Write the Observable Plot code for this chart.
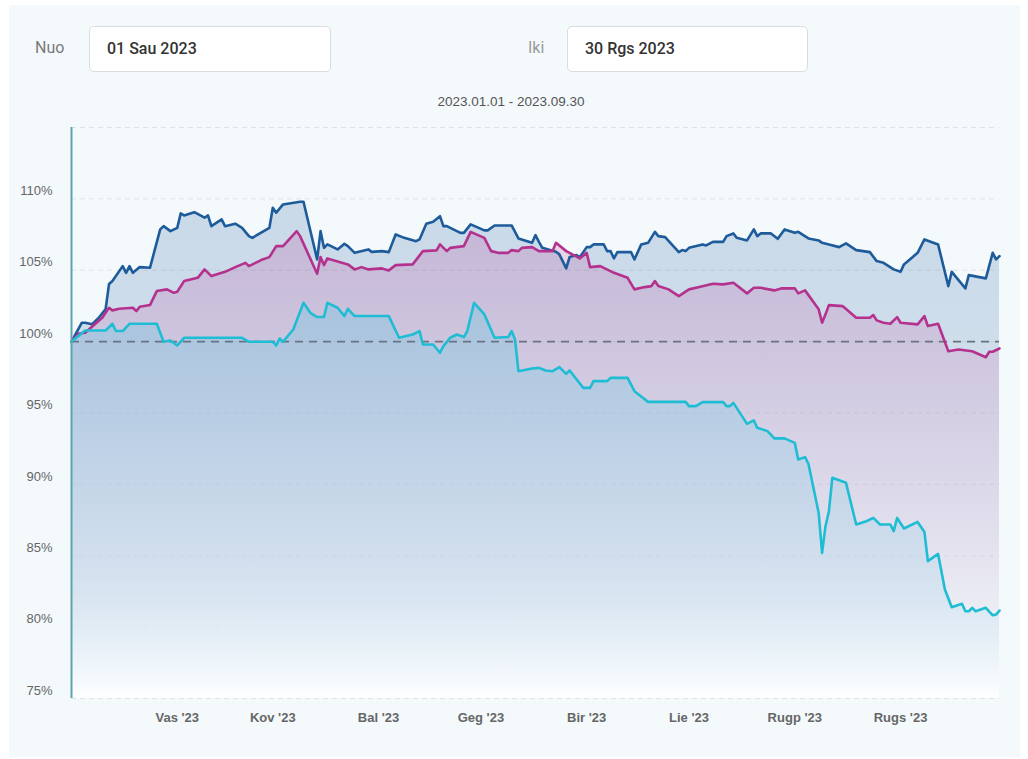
<!DOCTYPE html>
<html>
<head>
<meta charset="utf-8">
<script src="https://cdn.jsdelivr.net/npm/d3@7"></script>
<script src="https://cdn.jsdelivr.net/npm/@observablehq/plot@0.6"></script>
<style>
  html, body { margin: 0; padding: 0; background: #ffffff; }
  body { width: 1028px; height: 759px; position: relative; overflow: hidden; font-family: Roboto, "Liberation Sans", Arial, sans-serif; }
  #panel { position: absolute; left: 9px; top: 5px; width: 1011px; height: 752px; background: #f4f9fc; }
  .lbl { position: absolute; top: 38px; font-size: 16px; color: #7a7a7a; }
  .box { position: absolute; top: 26px; height: 46px; background: #fff; border: 1px solid #d8dde2; border-radius: 5px; box-sizing: border-box; padding-left: 17px; line-height: 44px; font-size: 16px; font-weight: 500; color: #333; }
  #subtitle { position: absolute; top: 94px; left: 0; width: 1022px; text-align: center; font-size: 13.5px; color: #555; font-family: "Liberation Sans", Arial, sans-serif; }
  #chart { position: absolute; left: 0; top: 115px; }
</style>
</head>
<body>
<div id="panel"></div>
<div class="lbl" style="left:35px;">Nuo</div>
<div class="box" style="left:89px; width:242px;">01 Sau 2023</div>
<div class="lbl" style="left:528px; color:#9a9a9a;">Iki</div>
<div class="box" style="left:567px; width:241px;">30 Rgs 2023</div>
<div id="subtitle">2023.01.01 - 2023.09.30</div>
<div id="chart"></div>
<script>
// ---- data (day offset from 2023-01-01, value in %) ----
const startDate = "2023-01-01";
const endDate = "2023-09-30";

const blueSeries = [[0,100],[3,101.32],[4,101.32],[6,101.21],[8,101.67],[10,102.28],[11,104.03],[12,104.24],[15,105.29],[16,104.82],[17,105.29],[18,104.82],[20,105.22],[23,105.17],[26,107.86],[27,108.09],[29,107.74],[31,107.97],[32,108.98],[33,108.84],[36,109.07],[39,108.68],[40,108.84],[41,108.09],[44,108.56],[45,108.09],[48,108.26],[50,107.97],[52,107.39],[53,107.27],[58,107.97],[59,109.38],[60,109.03],[62,109.61],[67,109.8],[68,109.8],[72,105.76],[73,107.74],[74,106.57],[75,106.81],[78,106.46],[80,106.85],[81,106.69],[83,106.22],[87,106.46],[88,106.29],[91,106.34],[93,106.27],[95,107.51],[97,107.32],[101,107.04],[102,107.16],[104,108.26],[106,108.4],[108,108.79],[109,108.09],[110,108.09],[114,107.62],[115,107.62],[117,108.21],[121,107.79],[122,107.79],[124,108.14],[129,108.14],[131,107.23],[135,106.92],[136,107.46],[137,106.99],[138,106.57],[142,106.29],[143,106.11],[145,105.13],[146,105.92],[148,106.06],[149,105.92],[151,106.62],[152,106.62],[153,106.81],[156,106.81],[157,106.34],[158,106.34],[159,105.83],[160,106.27],[164,106.27],[165,105.76],[167,106.81],[169,106.92],[171,107.69],[172,107.39],[174,107.32],[178,106.27],[179,106.41],[180,106.34],[181,106.57],[185,106.81],[186,106.74],[188,106.99],[191,106.99],[192,107.39],[194,107.58],[195,107.27],[198,107.09],[200,107.86],[201,107.39],[202,107.58],[205,107.58],[207,107.2],[209,107.86],[212,107.62],[213,107.69],[216,107.23],[219,107.09],[220,106.92],[222,106.81],[225,106.62],[227,106.88],[230,106.41],[234,106.27],[236,105.64],[238,105.52],[241,105.06],[243,104.89],[244,105.41],[248,106.22],[250,107.16],[254,106.81],[257,103.89],[258,104.89],[262,103.73],[263,104.66],[268,104.43],[270,106.22],[271,105.76],[272,105.99]];

const magentaSeries = [[0,100],[2,100.55],[4,100.62],[7,101.25],[9,101.67],[11,102.37],[12,102.19],[14,102.3],[18,102.37],[19,102.14],[20,102.44],[23,102.56],[25,103.54],[28,103.66],[30,103.42],[31,103.49],[33,104.24],[37,104.47],[39,105.06],[41,104.59],[45,104.89],[48,105.22],[51,105.52],[52,105.29],[56,105.76],[58,105.92],[60,106.69],[62,106.69],[66,107.74],[67,107.39],[72,104.75],[73,105.92],[74,105.36],[75,105.83],[81,105.41],[83,105.06],[85,105.22],[87,105.06],[91,105.13],[93,104.99],[95,105.36],[100,105.41],[103,106.34],[107,106.39],[108,106.81],[110,106.34],[111,106.57],[115,106.69],[117,107.69],[121,107.27],[123,106.34],[125,106.22],[128,106.22],[129,106.41],[131,106.34],[132,106.57],[135,106.62],[137,106.34],[141,106.34],[142,106.92],[145,106.34],[149,105.83],[151,106.22],[152,105.22],[155,105.29],[159,104.82],[163,104.47],[165,103.66],[168,103.82],[170,103.89],[171,104.24],[172,103.89],[175,103.66],[178,103.19],[181,103.66],[184,103.82],[188,104.05],[191,104.01],[194,104.12],[198,103.38],[200,103.77],[202,103.77],[206,103.59],[208,103.73],[212,103.73],[213,103.38],[215,103.59],[219,102.26],[220,101.32],[221,101.91],[222,102.56],[226,102.49],[230,101.67],[234,101.67],[235,101.86],[236,101.49],[238,101.32],[240,101.25],[242,101.72],[243,101.32],[248,101.21],[250,101.79],[251,101.09],[254,101.25],[257,99.33],[260,99.45],[264,99.33],[268,98.91],[269,99.29],[270,99.29],[272,99.52]];

const cyanSeries = [[0,100],[4,100.78],[10,100.78],[12,101.25],[13,100.74],[15,100.74],[17,101.25],[25,101.25],[27,99.99],[29,100.08],[31,99.73],[33,100.27],[50,100.27],[52,99.99],[59,99.99],[60,99.73],[61,100.22],[62,99.99],[65,100.85],[68,102.72],[70,102.02],[72,101.72],[74,101.72],[75,102.72],[78,102.37],[80,101.79],[81,102.3],[83,101.79],[93,101.79],[96,100.27],[100,100.5],[102,100.74],[103,99.8],[106,99.8],[108,99.22],[109,99.68],[111,100.27],[113,100.5],[115,100.32],[116,100.74],[118,102.72],[121,101.91],[124,100.27],[128,100.32],[129,100.74],[130,100.15],[131,97.93],[135,98.12],[137,98.16],[139,97.98],[141,97.93],[143,98.21],[145,97.74],[146,97.98],[150,96.76],[152,96.76],[153,97.23],[157,97.23],[158,97.46],[163,97.46],[165,96.53],[169,95.78],[180,95.78],[181,95.48],[183,95.48],[185,95.76],[191,95.76],[192,95.48],[193,95.48],[194,95.71],[198,94.24],[200,94.48],[201,93.96],[204,93.73],[206,93.22],[209,93.22],[212,92.91],[213,91.74],[215,91.91],[216,91.44],[219,88.0],[220,85.2],[221,87.07],[222,88.12],[223,90.46],[227,90.11],[230,87.19],[233,87.42],[235,87.65],[237,87.19],[240,87.19],[241,86.72],[242,87.65],[244,86.91],[248,87.37],[250,86.67],[251,84.62],[254,85.13],[256,82.63],[258,81.39],[261,81.63],[262,81.11],[263,81.11],[264,81.35],[265,81.11],[268,81.35],[270,80.83],[271,80.88],[272,81.16]];

const monthTickDates = ["2023-02-01","2023-03-01","2023-04-01","2023-05-01","2023-06-01","2023-07-01","2023-08-01","2023-09-01"];
const monthTickLabels = ["Vas '23","Kov '23","Bal '23","Geg '23","Bir '23","Lie '23","Rugp '23","Rugs '23"];
const yTickValues = [75, 80, 85, 90, 95, 100, 105, 110];
const gridValues = [75, 80, 85, 90, 95, 100, 105, 110, 115];
const baseline = [100];

// ---- build ----
const base = new Date(startDate + "T00:00:00Z");
const toRows = s => s.map(([d, v]) => ({date: d3.utcDay.offset(base, d), value: v}));
const blue = toRows(blueSeries);
const magenta = toRows(magentaSeries);
const cyan = toRows(cyanSeries);
const tickDates = monthTickDates.map(s => new Date(s + "T00:00:00Z"));
const labelMap = new Map(tickDates.map((d, i) => [+d, monthTickLabels[i]]));

const C_BLUE = "#1d5b9b", C_MAG = "#b5318e", C_CYAN = "#1fbdd3";

const chart = Plot.plot({
  width: 1028,
  height: 640,
  marginLeft: 71,
  marginRight: 29,
  marginTop: 12,
  marginBottom: 57,
  style: {background: "transparent", fontFamily: "'Liberation Sans', Arial, sans-serif", fontSize: "13px", overflow: "visible"},
  x: {type: "utc", domain: [base, new Date(endDate + "T00:00:00Z")], axis: null},
  y: {domain: [75, 115], axis: null},
  marks: [
    Plot.ruleY(gridValues, {stroke: "#dde3e8", strokeDasharray: "5,4", strokeWidth: 1}),
    Plot.areaY(blue, {x: "date", y1: 75, y2: "value", fill: "url(#gBlue)", curve: "linear"}),
    Plot.areaY(magenta, {x: "date", y1: 75, y2: "value", fill: "url(#gMag)", curve: "linear"}),
    Plot.areaY(cyan, {x: "date", y1: 75, y2: "value", fill: "url(#gCyan)", curve: "linear"}),
    Plot.ruleY(baseline, {stroke: "#6b7280", strokeDasharray: "8,6", strokeWidth: 1.6}),
    Plot.lineY(blue, {x: "date", y: "value", stroke: C_BLUE, strokeWidth: 2.6}),
    Plot.lineY(magenta, {x: "date", y: "value", stroke: C_MAG, strokeWidth: 2.6}),
    Plot.lineY(cyan, {x: "date", y: "value", stroke: C_CYAN, strokeWidth: 2.6}),
    Plot.ruleX([base], {stroke: "#5ba6ae", strokeWidth: 2}),
    Plot.axisY(yTickValues, {tickSize: 0, tickPadding: 19, dy: -8, fill: "#666", fontSize: 13, tickFormat: d => d + "%", label: null}),
    Plot.axisX(tickDates, {tickSize: 0, tickPadding: 14, fill: "#666", fontSize: 13, fontWeight: "bold", tickFormat: d => labelMap.get(+d), label: null})
  ]
});

const defs = d3.select(chart).insert("defs", ":first-child");
function grad(id, stops) {
  const g = defs.append("linearGradient").attr("id", id).attr("x1", 0).attr("y1", 0).attr("x2", 0).attr("y2", 1);
  stops.forEach(([o, c, op]) => g.append("stop").attr("offset", o).attr("stop-color", c).attr("stop-opacity", op));
}
grad("gBlue", [["0%", C_BLUE, 0.2], ["100%", "#ffffff", 0.35]]);
grad("gMag", [["0%", C_MAG, 0.2], ["100%", "#ffffff", 0.2]]);
grad("gCyan", [["0%", "#78c6e0", 0.42], ["65%", "#b4d6ea", 0.4], ["100%", "#ffffff", 0.8]]);

document.getElementById("chart").appendChild(chart);
</script>
</body>
</html>
